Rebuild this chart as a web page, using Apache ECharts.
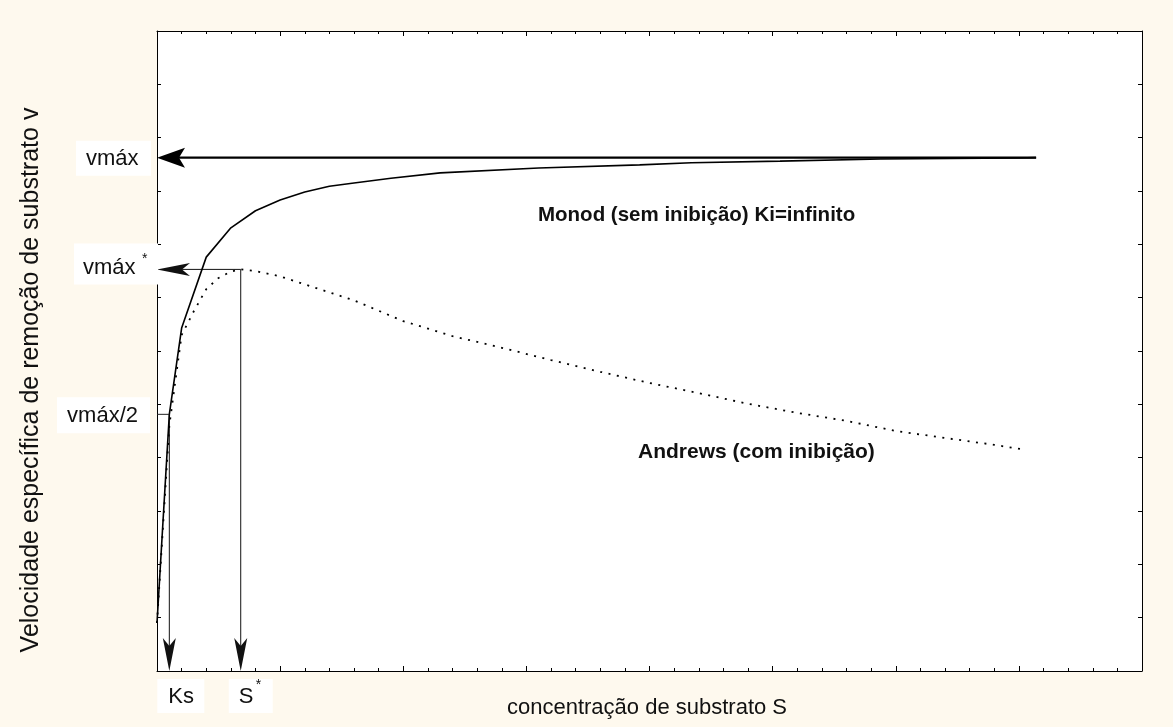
<!DOCTYPE html>
<html>
<head>
<meta charset="utf-8">
<script src="https://cdn.jsdelivr.net/npm/echarts@6/dist/echarts.min.js"></script>
<style>
  html, body { margin: 0; padding: 0; background: #fef9ee; }
  #chart { width: 1173px; height: 727px; }
</style>
</head>
<body>
<div id="chart"></div>
<script>
// Substrate concentration S (x) and specific removal rate v (y), arbitrary units
const monodS = [0, 0.5, 1, 2, 3, 4, 5, 6, 7, 8, 9.5, 11.5, 15.5, 19.6, 21.7, 25.3, 29.4, 35, 35.7];
const monodV = [0.9, 4.81, 6.43, 7.76, 8.31, 8.63, 8.83, 8.98, 9.09, 9.15, 9.24, 9.34, 9.43, 9.49, 9.53, 9.56, 9.60, 9.62, 9.625];

const andrewsS = [0, 0.5, 1, 1.5, 2, 2.5, 3, 3.4, 4, 5, 6, 7, 8, 10, 12, 14, 16, 18, 20, 22, 24, 26, 28, 30, 32, 34, 35.1];
const andrewsV = [0.9, 4.6, 6.3, 6.75, 7.16, 7.37, 7.49, 7.53, 7.5, 7.4, 7.25, 7.1, 6.95, 6.56, 6.28, 6.06, 5.83, 5.61, 5.4, 5.21, 5.01, 4.84, 4.69, 4.5, 4.37, 4.24, 4.16];

// Characteristic values
const vmax = 9.625;
const vmaxStar = 7.53;
const Ks = 0.5;
const Sstar = 3.4;
const Send = 35.7;

// Axis ranges
const xRange = [0, 40];
const yRange = [0, 12];

const zip = (xs, ys) => xs.map((x, i) => [x, ys[i]]);

const FONT = '"Liberation Sans", Arial, Helvetica, sans-serif';

function arrowRenderer(head) {
  return function (params, api) {
    const p1 = api.coord([api.value(0), api.value(1)]);
    const p2 = api.coord([api.value(2), api.value(3)]);
    const dx = p2[0] - p1[0], dy = p2[1] - p1[1];
    const len = Math.hypot(dx, dy) || 1;
    const ux = dx / len, uy = dy / len;
    const nx = -uy, ny = ux;
    const bx = p2[0] - ux * head.len, by = p2[1] - uy * head.len;
    const mx = p2[0] - ux * (head.len - head.notch), my = p2[1] - uy * (head.len - head.notch);
    const hw = head.width / 2;
    return {
      type: 'group',
      children: [
        { type: 'line', shape: { x1: p1[0], y1: p1[1], x2: mx, y2: my },
          style: { stroke: head.color, lineWidth: head.lineWidth } },
        { type: 'polygon',
          shape: { points: [[p2[0], p2[1]], [bx + nx * hw, by + ny * hw], [mx, my], [bx - nx * hw, by - ny * hw]] },
          style: { fill: head.color } }
      ]
    };
  };
}

const chart = echarts.init(document.getElementById('chart'), null, { renderer: 'canvas' });

const xAxisBase = {
  type: 'value', min: xRange[0], max: xRange[1], interval: 5,
  axisLine: { show: true, onZero: false, lineStyle: { color: '#000', width: 1 } },
  axisTick: { show: true, inside: true, length: 5, lineStyle: { color: '#000' } },
  minorTick: { show: true, splitNumber: 5, length: 3, lineStyle: { color: '#000' } },
  axisLabel: { show: false },
  splitLine: { show: false },
  minorSplitLine: { show: false }
};
const yAxisBase = {
  type: 'value', min: yRange[0], max: yRange[1], interval: 1,
  axisLine: { show: true, onZero: false, lineStyle: { color: '#000', width: 1 } },
  axisTick: { show: true, inside: true, length: 4, lineStyle: { color: '#000' } },
  axisLabel: { show: false },
  splitLine: { show: false }
};

chart.setOption({
  backgroundColor: '#fef9ee',
  animation: false,
  grid: { left: 157, right: 31, top: 31, bottom: 56, show: true, backgroundColor: '#ffffff', borderWidth: 0 },
  xAxis: [
    Object.assign({}, xAxisBase, { position: 'bottom' }),
    Object.assign({}, xAxisBase, { position: 'top' })
  ],
  yAxis: [
    Object.assign({}, yAxisBase, { position: 'left' }),
    Object.assign({}, yAxisBase, { position: 'right' })
  ],
  series: [
    {
      name: 'Monod', type: 'line', data: zip(monodS, monodV),
      symbol: 'none', silent: true, clip: false,
      lineStyle: { color: '#000', width: 1.6 }
    },
    {
      name: 'Andrews', type: 'line', data: zip(andrewsS, andrewsV),
      symbol: 'none', silent: true, clip: false,
      lineStyle: { color: '#000', width: 1.8, type: [2, 6.5] }
    },
    {
      name: 'half', type: 'line', data: [[0, vmax / 2], [Ks, vmax / 2]],
      symbol: 'none', silent: true,
      lineStyle: { color: '#222', width: 1 }
    },
    {
      name: 'vmax arrow', type: 'custom', silent: true, clip: false,
      renderItem: arrowRenderer({ len: 28, width: 20, notch: 6, lineWidth: 2.2, color: '#000' }),
      encode: { x: [0, 2], y: [1, 3] },
      data: [[Send, vmax, 0, vmax]]
    },
    {
      name: 'guide arrows', type: 'custom', silent: true, clip: false,
      renderItem: arrowRenderer({ len: 33, width: 13, notch: 8, lineWidth: 1, color: '#111' }),
      encode: { x: [0, 2], y: [1, 3] },
      data: [
        [Sstar, vmaxStar, 0, vmaxStar],
        [Sstar, vmaxStar, Sstar, 0],
        [Ks, vmax / 2, Ks, 0]
      ]
    }
  ]
});

// Annotations placed from the characteristic values
const px = (x, y) => chart.convertToPixel({ xAxisIndex: 0, yAxisIndex: 0 }, [x, y]);

function box(x, y, w, h) {
  return { type: 'rect', silent: true, z: 10, shape: { x: x, y: y, width: w, height: h }, style: { fill: '#ffffff' } };
}
function txt(text, x, y, size, align, opts) {
  return Object.assign({
    type: 'text', silent: true, z: 11, x: x, y: y,
    style: {
      text: text, font: (opts && opts.bold ? 'bold ' : '') + size + 'px ' + FONT, fill: '#111',
      align: align, textAlign: align, verticalAlign: 'middle', textVerticalAlign: 'middle'
    }
  }, opts && opts.rotation !== undefined ? { rotation: opts.rotation } : {});
}

const pVmax = px(0, vmax);
const pVmaxStar = px(0, vmaxStar);
const pHalf = px(0, vmax / 2);
const pKs = px(Ks, 0);
const pS = px(Sstar, 0);

const graphics = [
  // vmáx
  box(pVmax[0] - 81, pVmax[1] - 17, 75, 35),
  txt('vmáx', pVmax[0] - 71, pVmax[1] + 1, 22, 'left'),
  // vmáx*
  box(pVmaxStar[0] - 83, pVmaxStar[1] - 26, 84, 41),
  txt('vmáx', pVmaxStar[0] - 74, pVmaxStar[1] - 1, 22, 'left'),
  txt('*', pVmaxStar[0] - 15, pVmaxStar[1] - 10, 14, 'left'),
  // vmáx/2
  box(pHalf[0] - 100, pHalf[1] - 17, 93, 36),
  txt('vmáx/2', pHalf[0] - 19, pHalf[1] + 2, 22, 'right'),
  // Ks
  box(pKs[0] - 12, pKs[1] + 8, 47, 34),
  txt('Ks', pKs[0] - 1, pKs[1] + 26, 22, 'left'),
  // S*
  box(pS[0] - 12, pS[1] + 8, 44, 34),
  txt('S', pS[0] - 2, pS[1] + 26, 22, 'left'),
  txt('*', pS[0] + 15, pS[1] + 14, 14, 'left'),
  // curve names
  txt('Monod (sem inibição) Ki=infinito', 538, 215, 20.5, 'left', { bold: true }),
  txt('Andrews (com inibição)', 638, 452, 21, 'left', { bold: true }),
  // axis titles
  txt('concentração de substrato S', 647, 708, 22, 'center'),
  txt('Velocidade específica de remoção de substrato v', 31, 380, 25, 'center', { rotation: Math.PI / 2 })
];

chart.setOption({ graphic: graphics });
</script>
</body>
</html>
